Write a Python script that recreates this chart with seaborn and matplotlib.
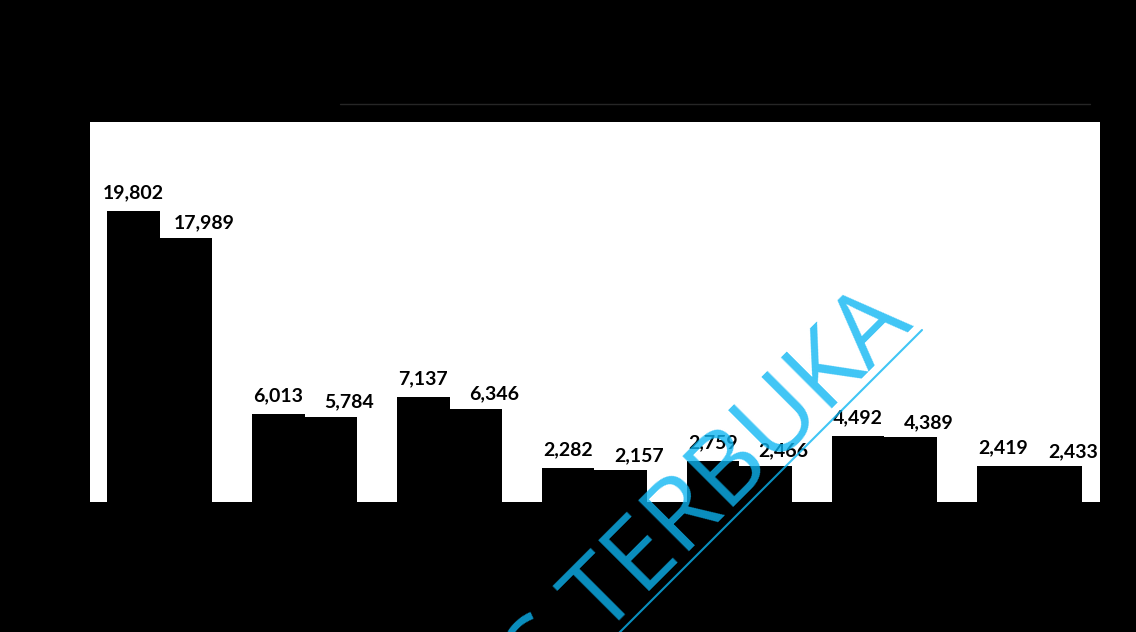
import matplotlib
matplotlib.use("Agg")
import matplotlib.pyplot as plt
from matplotlib.lines import Line2D
import seaborn as sns
import pandas as pd

# ---- data ----
categories = ["1", "2", "3", "4", "5", "6", "7"]
series_names = ["Series 1", "Series 2"]
series1 = [19802, 6013, 7137, 2282, 2759, 4492, 2419]
series2 = [17989, 5784, 6346, 2157, 2466, 4389, 2433]
watermark = "UNIVERSITAS TERBUKA"

df = pd.DataFrame({
    "category": categories * 2,
    "series": [series_names[0]] * len(categories) + [series_names[1]] * len(categories),
    "value": series1 + series2,
})

sns.set_theme(style="white")
plt.rcParams["font.family"] = ["Lato", "DejaVu Sans"]

W, H = 1136, 632
fig = plt.figure(figsize=(W / 100, H / 100), dpi=100, facecolor="black")
ax = fig.add_axes([90 / W, 1 - 502 / H, (1100 - 90) / W, (502 - 122) / H])
ax.set_facecolor("white")

sns.barplot(data=df, x="category", y="value", hue="series",
            palette=["black", "black"], width=0.725, gap=0,
            linewidth=0, saturation=1, legend=False, ax=ax, errorbar=None)

ax.set_xlim(-0.483, 6.49)
ax.set_ylim(0, 25850)
ax.set_xlabel("")
ax.set_ylabel("")
ax.set_xticks([])
ax.set_yticks([])
for s in ax.spines.values():
    s.set_visible(False)

offsets = [(0, 7), (13, 4.5)]
for cont, (dx, dy) in zip(ax.containers, offsets):
    for bar in cont:
        h = bar.get_height()
        ax.annotate(f"{h:,.0f}", (bar.get_x() + bar.get_width() / 2, h),
                    xytext=(dx, dy), textcoords="offset points",
                    ha="center", va="bottom", fontsize=14, fontweight="bold",
                    color="black", clip_on=True)

# faint scan line near the title area
fig.add_artist(Line2D([340 / W, 1090 / W], [1 - 104 / H, 1 - 104 / H],
                      transform=fig.transFigure, color="#262626", lw=1.0))

# diagonal watermark
wm_color = "#0db6f3"
fig.text(915 / W, 1 - 326 / H, watermark, rotation=45, rotation_mode="anchor",
         ha="right", va="baseline", fontsize=73, family=["Open Sans", "DejaVu Sans"],
         color=wm_color, alpha=0.79, zorder=10)
fig.add_artist(Line2D([600 / W, 922 / W], [1 - 652 / H, 1 - 330 / H],
                      transform=fig.transFigure, color=wm_color, alpha=0.79,
                      lw=1.5, zorder=10))

fig.savefig("out.png", dpi=100, facecolor="black")
